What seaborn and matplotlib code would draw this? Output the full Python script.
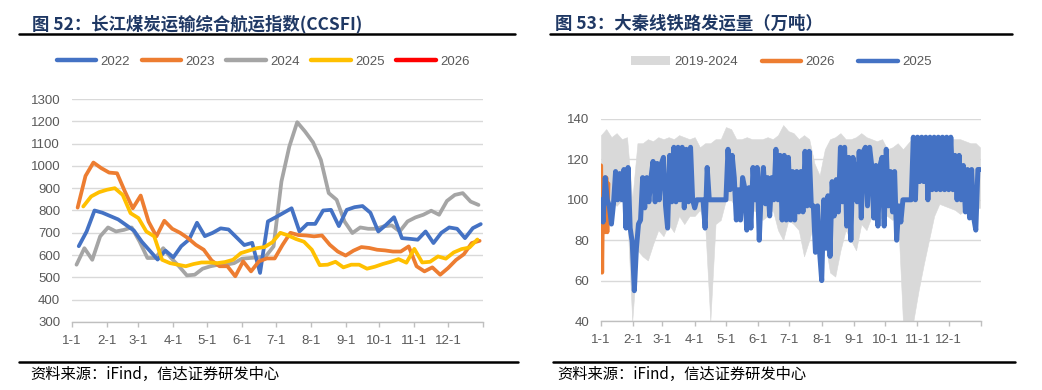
import numpy as np
import pandas as pd
import matplotlib
matplotlib.use("Agg")
import matplotlib.pyplot as plt
import seaborn as sns
from matplotlib.lines import Line2D
from matplotlib.patches import Patch

# ---------------- data: left chart (weekly CCSFI) ----------------
ccsfi_2022 = [640, 706, 800, 790, 775, 760, 735, 710, 660, 620, 580, 620, 590, 640, 670, 745,
              685, 700, 720, 715, 680, 645, 655, 520, 751, 770, 790, 810, 706, 740, 740, 800,
              803, 730, 803, 815, 820, 790, 706, 736, 770, 676, 673, 669, 706, 654, 700, 724,
              718, 676, 721, 739]
ccsfi_2023 = [813, 955, 1015, 990, 970, 967, 885, 810, 867, 750, 684, 754, 718, 700, 676, 646,
              624, 576, 550, 550, 505, 572, 527, 572, 585, 585, 646, 700, 690, 688, 684, 688,
              646, 616, 598, 620, 636, 632, 624, 621, 616, 616, 639, 550, 527, 545, 512, 542,
              578, 604, 654, 664]
ccsfi_2024 = [557, 631, 579, 684, 724, 706, 713, 724, 661, 587, 587, 631, 587, 550, 509, 512,
              539, 550, 557, 557, 564, 584, 587, 590, 594, 639, 930, 1087, 1196, 1154, 1106, 1027,
              878, 848, 751, 699, 724, 718, 718, 729, 733, 706, 751, 769, 781, 799, 781, 843,
              870, 878, 840, 825]
ccsfi_2025 = [818, 863, 882, 893, 900, 870, 788, 766, 706, 684, 579, 564, 557, 550, 560, 567,
              567, 564, 569, 579, 609, 620, 631, 636, 658, 700, 688, 672, 660, 624, 555, 557,
              570, 545, 557, 557, 539, 548, 560, 570, 582, 566, 628, 567, 570, 594, 584, 612,
              627, 634, 670]
ccsfi_2026 = [650]
ccsfi_start = {"2022": "2022-01-07", "2023": "2023-01-06", "2024": "2024-01-05",
               "2025": "2025-01-11", "2026": "2026-01-02"}
ccsfi_years = ["2022", "2023", "2024", "2025", "2026"]

# ---------------- data: right chart (Daqin line, 10k t) ----------------
# 2025, every second day from Jan 1
daqin_2025_jan = [100, 89, 111, 100, 97, 88, 98, 114, 100, 113, 100, 115, 86, 116, 86, 79]
daqin_2025_feb = [55, 76, 88, 90, 111, 96, 111, 99, 111, 119, 99, 118, 100, 118]
daqin_2025_mar = [121, 97, 86, 122, 99, 126, 99, 126, 100, 126, 96, 125, 99, 126, 100, 96]
daqin_2025_apr = [100, 100, 100, 100, 86, 116, 100, 100, 100, 100, 100, 100, 100, 100, 100]
daqin_2025_may = [125, 105, 122, 111, 90, 105, 90, 111, 106, 85, 106, 86, 116, 100, 116]
daqin_2025_jun = [80, 105, 116, 98, 111, 92, 111, 100, 125, 100, 122, 90, 122, 90, 121]
daqin_2025_jul = [90, 114, 90, 114, 94, 114, 94, 124, 97, 124, 97, 97, 74, 97, 74, 60]
daqin_2025_aug = [100, 76, 102, 72, 109, 92, 110, 94, 126, 99, 126, 87, 121, 80, 121]
daqin_2025_sep = [114, 99, 124, 91, 124, 126, 97, 126, 117, 91, 117, 87, 117, 121, 87]
daqin_2025_oct = [125, 97, 114, 94, 114, 80, 97, 89, 100, 100, 100, 100, 100, 131, 100]
daqin_2025_nov = [131, 109, 131, 109, 131, 100, 131, 105, 131, 105, 131, 105, 131, 105, 131]
daqin_2025_dec = [105, 131, 105, 122, 100, 122, 100, 117, 94, 115, 91, 115, 91, 85, 115, 115]
# 2026, daily from Jan 1
daqin_2026 = [117, 64, 110, 90, 84, 111, 84, 108]
# 2019-2024 range, every fifth day
range_high = [132, 135, 131, 133, 130, 131, 100, 128, 128, 130, 129, 131, 130, 131, 130, 132,
              131, 130, 131, 126, 128, 128, 130, 130, 136, 135, 130, 130, 131, 130, 130, 130,
              131, 130, 132, 137, 134, 133, 130, 132, 130, 118, 112, 125, 130, 131, 133, 130,
              130, 131, 133, 131, 130, 129, 130, 125, 126, 128, 125, 128, 131, 131, 132, 131,
              130, 130, 131, 130, 130, 130, 129, 128, 128, 126]
range_low = [98, 95, 100, 97, 100, 95, 40, 75, 72, 70, 78, 85, 82, 88, 84, 92,
             88, 92, 92, 95, 88, 40, 88, 90, 100, 100, 95, 97, 92, 95, 94, 90,
             92, 95, 85, 80, 90, 88, 85, 72, 80, 90, 62, 80, 64, 62, 75, 85,
             80, 75, 88, 85, 92, 88, 92, 92, 90, 95, 40, 40, 40, 55, 68, 80,
             92, 98, 97, 96, 95, 93, 95, 95, 96, 96]

month_labels = ["1-1", "2-1", "3-1", "4-1", "5-1", "6-1", "7-1", "8-1", "9-1", "10-1", "11-1", "12-1"]

# ---------------- style ----------------
sns.set_theme(style="white")
plt.rcParams['font.family'] = ['Liberation Sans', 'Noto Sans CJK SC', 'DejaVu Sans']
CJK = ['Noto Sans CJK SC', 'DejaVu Sans']
TICK_C = '#595959'
GRID_C = '#D9D9D9'

W, H = 1042, 390
fig = plt.figure(figsize=(W / 100, H / 100), dpi=100)


def fx(px):
    return px / W


def fy(py):
    return 1 - py / H


month_days = (pd.date_range("2025-01-01", periods=13, freq="MS").dayofyear - 1).tolist()
month_days[-1] = 365


def style_axes(ax, ymin, ymax, ystep):
    ax.set_xlim(0, 365)
    ax.set_ylim(ymin, ymax)
    ax.set_yticks(np.arange(ymin, ymax + 1, ystep))
    ax.set_xticks(month_days)
    ax.set_xticklabels(month_labels + [""])
    for s in ["left", "right", "top"]:
        ax.spines[s].set_visible(False)
    ax.spines["bottom"].set_color("#BFBFBF")
    ax.spines["bottom"].set_linewidth(1.0)
    ax.yaxis.grid(True, color=GRID_C, lw=1.0)
    ax.xaxis.grid(False)
    ax.set_axisbelow(True)
    ax.tick_params(axis="y", length=0, pad=8.5, labelsize=9.5, labelcolor=TICK_C)
    ax.tick_params(axis="x", length=3.5, width=1, color="#BFBFBF", pad=6,
                   labelsize=9.5, labelcolor=TICK_C, bottom=True)
    ax.set_xlabel("")
    ax.set_ylabel("")


# ---------------- left chart ----------------
axL = fig.add_axes([fx(72), fy(322), fx(411), 223 / H])
ccsfi_vals = {"2022": ccsfi_2022, "2023": ccsfi_2023, "2024": ccsfi_2024,
              "2025": ccsfi_2025, "2026": ccsfi_2026}
ccsfi_colors = {"2022": "#4472C4", "2023": "#ED7D31", "2024": "#A5A5A5",
                "2025": "#FFC000", "2026": "#FF0000"}
draw_order = ["2024", "2022", "2023", "2025", "2026"]
for yr in draw_order:
    vals = ccsfi_vals[yr]
    dates = pd.date_range(ccsfi_start[yr], periods=len(vals), freq="7D")
    df = pd.DataFrame({"day": dates.dayofyear - 1, "v": vals})
    sns.lineplot(data=df, x="day", y="v", ax=axL, color=ccsfi_colors[yr], lw=2.7,
                 solid_capstyle="round", solid_joinstyle="round", legend=False)
style_axes(axL, 300, 1300, 100)

hL = [Line2D([0], [0], color=ccsfi_colors[y], lw=3.2, solid_capstyle="round") for y in ccsfi_years]
fig.legend(hL, ccsfi_years, loc="center", bbox_to_anchor=(fx(263), fy(62)), ncol=5,
           frameon=False, fontsize=9.5, handlelength=3.0, handletextpad=0.3,
           columnspacing=0.9, labelcolor=TICK_C)

# ---------------- right chart ----------------
axR = fig.add_axes([fx(601), fy(321), fx(380), 202 / H])
range_days = list(range(0, 365, 5)) + [364]
axR.fill_between(range_days, range_low, range_high, color="#D9D9D9", lw=0.4,
                 edgecolor="#D9D9D9", zorder=1)
d26 = pd.DataFrame({"day": np.arange(len(daqin_2026)), "v": daqin_2026})
sns.lineplot(data=d26, x="day", y="v", ax=axR, color="#ED7D31", lw=3.0, legend=False, zorder=2)
daqin_2025 = (daqin_2025_jan + daqin_2025_feb + daqin_2025_mar + daqin_2025_apr + daqin_2025_may
              + daqin_2025_jun + daqin_2025_jul + daqin_2025_aug + daqin_2025_sep + daqin_2025_oct
              + daqin_2025_nov + daqin_2025_dec)
d25 = pd.DataFrame({"day": np.arange(len(daqin_2025)) * 2, "v": daqin_2025})
sns.lineplot(data=d25, x="day", y="v", ax=axR, color="#4472C4", lw=3.6, legend=False, zorder=3,
             solid_joinstyle="round", solid_capstyle="round")
style_axes(axR, 40, 140, 20)

hR = [Patch(facecolor="#D9D9D9", edgecolor="none"),
      Line2D([0], [0], color="#ED7D31", lw=3.2, solid_capstyle="round"),
      Line2D([0], [0], color="#4472C4", lw=3.2, solid_capstyle="round")]
fig.legend(hR, ["2019-2024", "2026", "2025"], loc="center", bbox_to_anchor=(fx(781), fy(62)),
           ncol=3, frameon=False, fontsize=9.5, handlelength=3.0, handleheight=0.6,
           handletextpad=0.3, columnspacing=1.8, labelcolor=TICK_C)

# ---------------- titles, rules, footers ----------------
TITLE_C = "#1F3864"
fig.text(fx(32), fy(24), "图 52：长江煤炭运输综合航运指数(CCSFI)", fontsize=12.5, fontweight="bold",
         color=TITLE_C, va="center", ha="left", family=CJK)
fig.text(fx(555), fy(24), "图 53：大秦线铁路发运量（万吨）", fontsize=12.5, fontweight="bold",
         color=TITLE_C, va="center", ha="left", family=CJK)
for x0, x1 in [(19, 515), (550, 1012)]:
    fig.add_artist(Line2D([fx(x0), fx(x1)], [fy(34), fy(34)], color="black", lw=1.8))
for x0, x1 in [(19, 518), (553, 1015)]:
    fig.add_artist(Line2D([fx(x0), fx(x1)], [fy(362), fy(362)], color="black", lw=1.8))
fig.text(fx(30), fy(374), "资料来源：iFind，信达证券研发中心", fontsize=11, style="italic",
         color="black", va="center", ha="left", family=CJK)
fig.text(fx(557), fy(374), "资料来源：iFind，信达证券研发中心", fontsize=11, style="italic",
         color="black", va="center", ha="left", family=CJK)

fig.savefig("out.png", dpi=100)
